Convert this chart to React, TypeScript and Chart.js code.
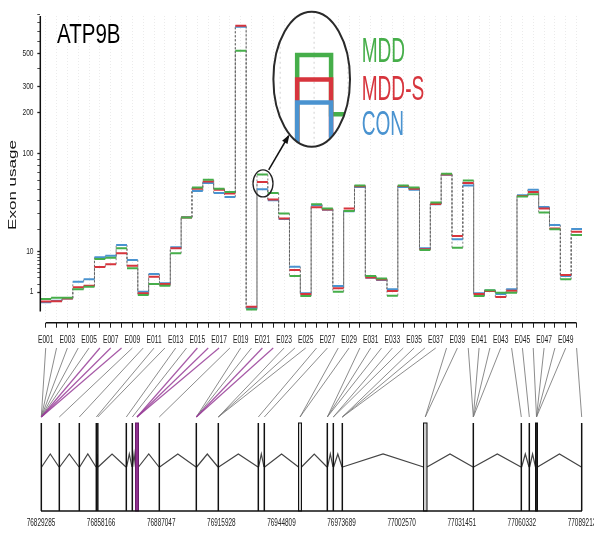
import React, { useEffect, useRef } from "react";
import { Chart, registerables } from "chart.js";

Chart.register(...registerables);

// ---------- data ----------
const exonLabels = [
  "E001", "E002", "E003", "E004", "E005", "E006", "E007", "E008", "E009", "E010",
  "E011", "E012", "E013", "E014", "E015", "E016", "E017", "E018", "E019", "E020",
  "E021", "E022", "E023", "E024", "E025", "E026", "E027", "E028", "E029", "E030",
  "E031", "E032", "E033", "E034", "E035", "E036", "E037", "E038", "E039", "E040",
  "E041", "E042", "E043", "E044", "E045", "E046", "E047", "E048", "E049", "E050",
];

const mddValues = [
  0.41, 0.5, 0.5, 1.3, 1.63, 7.6, 8.0, 11.2, 5.05, 0.71,
  2.0, 1.76, 9.4, 27, 52.3, 61.2, 51.2, 47.8, 523, 0.01,
  67.7, 46.8, 29.8, 3.37, 0.63, 36.8, 33.4, 1.03, 31.6, 54.7,
  3.37, 2.9, 0.66, 54.7, 52.3, 10.6, 38.2, 68.7, 11.45, 60.4,
  0.63, 1.2, 0.93, 0.93, 43.5, 45.6, 30.5, 19.9, 2.76, 17.0,
];
const mddsValues = [
  0.26, 0.27, 0.45, 1.55, 1.76, 5.4, 6.1, 9.4, 5.7, 0.87,
  3.24, 2.0, 11.2, 27, 51.2, 59.2, 50.2, 46.3, 761, 0.06,
  58.4, 40.8, 26.4, 4.65, 0.8, 34.4, 32.7, 1.42, 33.4, 53.7,
  3.1, 2.75, 1.1, 54.0, 51.2, 10.9, 37.0, 67.7, 16.5, 57.3,
  0.8, 1.1, 0.56, 1.14, 44.0, 47.8, 33.4, 20.4, 3.57, 18.6,
];
const conValues = [
  0.22, 0.3, 0.45, 2.36, 2.76, 8.1, 8.6, 12.5, 7.3, 1.03,
  3.77, 2.11, 11.6, 27.2, 48.8, 57.3, 46.8, 43.1, 750, 0.03,
  50.5, 40.2, 26.0, 5.44, 0.87, 36.0, 32.5, 1.72, 31.3, 52.9,
  3.05, 2.65, 1.3, 52.9, 50.2, 11.2, 36.8, 67.4, 15.0, 54.7,
  0.87, 1.15, 0.8, 1.3, 44.6, 50.2, 34.6, 22.3, 3.37, 20.05,
];

const seriesNames = ["MDD", "MDD-S", "CON"];
const seriesColors = ["#46ae4a", "#d7353d", "#4a93d0"];
const seriesValues = [mddValues, mddsValues, conValues];

const yTickMajor = [1, 10, 100, 200, 300, 500];
const yTickMinor = [2, 3, 4, 5, 6, 7, 8, 9, 20, 30, 40, 50, 60, 70, 80, 90, 400, 600, 700, 800, 900];

const genomicTicks = [
  76829285, 76858166, 76887047, 76915928, 76944809,
  76973689, 77002570, 77031451, 77060332, 77089213,
];

const geneExonStart = [
  76829285, 76837933, 76847542, 76855710, 76856431, 76870124, 76873007, 76874688,
  76885979, 76903756, 76914326, 76933545, 76936428, 76953003, 76966697, 76969579,
  76973903, 77013061, 77036844, 77059906, 77063749, 77066872, 77088913,
];
const geneExonEnd = [
  76829585, 76838233, 76847842, 76856010, 76856731, 76870424, 76873307, 76876130,
  76886279, 76904056, 76914626, 76933845, 76936728, 76954445, 76966997, 76969879,
  76974203, 77014743, 77037144, 77060206, 77064049, 77067833, 77089213,
];
const exonToGeneExon = [
  0, 0, 0, 0, 0, 0, 0, 0, 1, 2,
  3, 4, 5, 6, 7, 7, 7, 8, 9, 9,
  9, 9, 10, 10, 10, 11, 12, 13, 13, 14,
  14, 14, 15, 15, 16, 16, 16, 17, 17, 18,
  18, 18, 18, 19, 20, 21, 21, 21, 21, 22,
];
const significantExons = ["E006", "E007", "E008", "E015", "E016", "E017", "E021", "E022"];
const highlightedGeneExons = [7];
const shadedGeneExons = [13, 17];
const darkGeneExons = [21];

const geneName = "ATP9B";
const yTitle = "Exon usage";

// zoomed-in annotation anchor (exon position, usage value)
const zoomAnchorExon = 21.12;
const zoomAnchorValue = 58;

// ---------- helpers ----------
const T = (v: number) => Math.asinh(Math.sqrt(v / 50));
const FONT = '"Liberation Sans", Arial, Helvetica, sans-serif';

function stepData(vals: number[]) {
  const pts: { x: number; y: number | null }[] = [];
  vals.forEach((v, i) => {
    pts.push({ x: i + 0.5, y: T(v) }, { x: i + 1.5, y: T(v) }, { x: i + 1.5, y: null });
  });
  return pts;
}
function connectorData(vals: number[]) {
  const pts: { x: number; y: number | null }[] = [];
  for (let i = 0; i < vals.length - 1; i++) {
    pts.push({ x: i + 1.5, y: T(vals[i]) }, { x: i + 1.5, y: T(vals[i + 1]) }, { x: i + 1.5, y: null });
  }
  return pts;
}

function drawText(
  ctx: CanvasRenderingContext2D,
  text: string,
  x: number,
  y: number,
  o: { size: number; sx?: number; align?: CanvasTextAlign; baseline?: CanvasTextBaseline; color?: string; rotate?: number }
) {
  ctx.save();
  ctx.translate(x, y);
  if (o.rotate) ctx.rotate(o.rotate);
  ctx.scale(o.sx ?? 1, 1);
  ctx.font = `${o.size}px ${FONT}`;
  ctx.textAlign = o.align ?? "left";
  ctx.textBaseline = o.baseline ?? "alphabetic";
  ctx.fillStyle = o.color ?? "#000";
  ctx.fillText(text, 0, 0);
  ctx.restore();
}

const decorPlugin = {
  id: "decor",
  afterDraw(chart: any) {
    const ctx: CanvasRenderingContext2D = chart.ctx;
    const xs = chart.scales.x;
    const ys = chart.scales.y;
    const xg = chart.scales.xg;
    const ca = chart.chartArea;
    ctx.save();

    // axis lines
    ctx.strokeStyle = "#111";
    ctx.lineWidth = 1.5;
    ctx.beginPath();
    ctx.moveTo(ca.left, ca.top);
    ctx.lineTo(ca.left, ys.getPixelForValue(0));
    ctx.stroke();
    ctx.beginPath();
    ctx.moveTo(xs.getPixelForValue(1), ca.bottom);
    ctx.lineTo(xs.getPixelForValue(exonLabels.length), ca.bottom);
    ctx.stroke();

    // y labels
    yTickMajor.forEach((v) => {
      drawText(ctx, String(v), ca.left - 6.8, ys.getPixelForValue(T(v)), {
        size: 8.5, sx: 0.78, align: "right", baseline: "middle", color: "#222",
      });
    });
    // x labels
    exonLabels.forEach((lab, i) => {
      if (i % 2 !== 0) return;
      drawText(ctx, lab, xs.getPixelForValue(i + 1), ca.bottom + 20.6, {
        size: 11.5, sx: 0.58, align: "center", color: "#222",
      });
    });
    // y title
    drawText(ctx, yTitle, 4.9, 177, { size: 10, sx: 1.7, align: "center", baseline: "middle", rotate: -Math.PI / 2, color: "#111" });
    // gene title
    drawText(ctx, geneName, 49, 35.3, { size: 28, sx: 0.733, color: "#000" });
    // legend
    const legBase = [53.7, 92, 127];
    seriesNames.forEach((n, i) => {
      drawText(ctx, n, 353.7, legBase[i], { size: 35, sx: 0.545, color: seriesColors[i] });
    });

    // ---- zoom inset ----
    const ax = xs.getPixelForValue(zoomAnchorExon);
    const ay = ys.getPixelForValue(T(zoomAnchorValue));
    const bx = 303.7, by = 71.2, brx = 38.3, bry = 67.5;
    const mx = (X: number) => bx + 6.5 + (X - ax) * 3.13;
    const my = (Y: number) => by + 1.3 + (Y - ay) * 3.2;
    ctx.save();
    ctx.beginPath();
    ctx.ellipse(bx, by, brx, bry, 0, 0, Math.PI * 2);
    ctx.fillStyle = "#fff";
    ctx.fill();
    ctx.clip();
    ctx.strokeStyle = "rgba(0,0,0,0.12)";
    ctx.lineWidth = 1.5;
    ctx.setLineDash([2, 3]);
    for (let e = 18; e <= 24; e++) {
      const gx = mx(xs.getPixelForValue(e));
      ctx.beginPath();
      ctx.moveTo(gx, by - bry);
      ctx.lineTo(gx, by + bry);
      ctx.stroke();
    }
    ctx.setLineDash([]);
    ctx.filter = "blur(0.6px)";
    [0, 1, 2].forEach((s) => {
      const vals = seriesValues[s];
      ctx.beginPath();
      for (let i = 17; i <= 23; i++) {
        const yv = ys.getPixelForValue(T(vals[i]));
        const xl = xs.getPixelForValue(i + 0.5);
        const xr = xs.getPixelForValue(i + 1.5);
        if (i === 17) ctx.moveTo(mx(xl), my(yv));
        else ctx.lineTo(mx(xl), my(yv));
        ctx.lineTo(mx(xr), my(yv));
      }
      ctx.strokeStyle = seriesColors[s];
      ctx.lineWidth = 4.5;
      ctx.lineJoin = "miter";
      ctx.stroke();
    });
    ctx.filter = "none";
    ctx.restore();
    ctx.beginPath();
    ctx.ellipse(bx, by, brx, bry, 0, 0, Math.PI * 2);
    ctx.strokeStyle = "#2a2a2a";
    ctx.lineWidth = 2;
    ctx.stroke();
    // small ellipse
    ctx.beginPath();
    ctx.ellipse(ax - 0.7, ay + 1, 10, 13.5, 0, 0, Math.PI * 2);
    ctx.strokeStyle = "#222";
    ctx.lineWidth = 1.3;
    ctx.stroke();
    // arrow
    const sx0 = ax + 5, sy0 = ay - 12.5;
    const ex0 = bx - 23.2, ey0 = by + 56.8;
    ctx.beginPath();
    ctx.moveTo(sx0, sy0);
    ctx.lineTo(ex0, ey0);
    ctx.strokeStyle = "#111";
    ctx.lineWidth = 1.5;
    ctx.stroke();
    const ang = Math.atan2(ey0 - sy0, ex0 - sx0);
    ctx.beginPath();
    ctx.moveTo(ex0 + 1, ey0 - 1.5);
    ctx.lineTo(ex0 - 8 * Math.cos(ang - 0.4), ey0 - 8 * Math.sin(ang - 0.4));
    ctx.lineTo(ex0 - 8 * Math.cos(ang + 0.4), ey0 - 8 * Math.sin(ang + 0.4));
    ctx.closePath();
    ctx.fillStyle = "#111";
    ctx.fill();

    // ---- gene model ----
    const gTop = xg.top;
    const connTop = gTop - 4.7;
    const connBot = gTop + 64.3;
    const exTop = gTop + 70.3;
    const exBot = gTop + 158.3;
    const intronBase = gTop + 114.3;
    const intronPeak = gTop + 101.3;
    const labelBase = gTop + 173.5;
    const gp = (v: number) => xg.getPixelForValue(v);

    // connectors: grey first, purple on top
    [false, true].forEach((sigPass) => {
      exonLabels.forEach((lab, i) => {
        const sig = significantExons.includes(lab);
        if (sig !== sigPass) return;
        const g = exonToGeneExon[i];
        const x1 = xs.getPixelForValue(i + 1);
        const x2 = gp((geneExonStart[g] + geneExonEnd[g]) / 2);
        ctx.beginPath();
        ctx.moveTo(x1, connTop);
        ctx.lineTo(x2, connBot);
        ctx.strokeStyle = sig ? "rgba(150,60,150,0.85)" : "rgba(120,120,120,0.85)";
        ctx.lineWidth = sig ? 1.2 : 1;
        ctx.stroke();
      });
    });

    // introns
    ctx.strokeStyle = "#444";
    ctx.lineWidth = 1.2;
    for (let k = 0; k < geneExonStart.length - 1; k++) {
      const xa = gp(geneExonEnd[k]);
      const xb = gp(geneExonStart[k + 1]);
      ctx.beginPath();
      ctx.moveTo(xa, intronBase);
      ctx.lineTo((xa + xb) / 2, intronPeak);
      ctx.lineTo(xb, intronBase);
      ctx.stroke();
    }
    // exons
    geneExonStart.forEach((st, k) => {
      const xa = gp(st);
      const xb = gp(geneExonEnd[k]);
      if (xb - xa < 1.5) {
        ctx.beginPath();
        ctx.moveTo((xa + xb) / 2, exTop);
        ctx.lineTo((xa + xb) / 2, exBot);
        ctx.strokeStyle = "#111";
        ctx.lineWidth = 1.5;
        ctx.stroke();
      } else {
        let fill = "#fff";
        if (highlightedGeneExons.includes(k)) fill = "#8e2f8e";
        else if (shadedGeneExons.includes(k)) fill = "#cfcfcf";
        else if (darkGeneExons.includes(k)) fill = "#222";
        ctx.fillStyle = fill;
        ctx.fillRect(xa, exTop, xb - xa, exBot - exTop);
        ctx.strokeStyle = highlightedGeneExons.includes(k) ? "#6a1d6a" : "#111";
        ctx.lineWidth = 1;
        ctx.strokeRect(xa, exTop, xb - xa, exBot - exTop);
      }
    });
    // base line
    ctx.beginPath();
    ctx.moveTo(gp(geneExonStart[0]), exBot);
    ctx.lineTo(gp(geneExonEnd[geneExonEnd.length - 1]), exBot);
    ctx.strokeStyle = "#111";
    ctx.lineWidth = 1.5;
    ctx.stroke();
    // genomic labels
    genomicTicks.forEach((t) => {
      drawText(ctx, String(t), gp(t), labelBase, { size: 10.7, sx: 0.6, align: "center", color: "#222" });
    });

    ctx.restore();
  },
};

export default function App() {
  const ref = useRef<HTMLCanvasElement | null>(null);
  useEffect(() => {
    if (!ref.current) return;
    const datasets: any[] = [];
    seriesValues.forEach((vals, s) => {
      datasets.push({
        label: seriesNames[s],
        data: stepData(vals),
        borderColor: seriesColors[s],
        borderWidth: 2,
        pointRadius: 0,
        fill: false,
        spanGaps: false,
        tension: 0,
        xAxisID: "x",
        yAxisID: "y",
      });
    });
    seriesValues.forEach((vals, s) => {
      datasets.push({
        label: seriesNames[s] + " connector",
        data: connectorData(vals),
        borderColor: "rgba(85,85,85,0.75)",
        borderWidth: 1,
        borderDash: [2, 2],
        pointRadius: 0,
        fill: false,
        spanGaps: false,
        tension: 0,
        xAxisID: "x",
        yAxisID: "y",
      });
    });
    const yTicks = [
      ...yTickMajor.map((v) => ({ value: T(v), major: true })),
      ...yTickMinor.map((v) => ({ value: T(v), major: false })),
    ].sort((a, b) => a.value - b.value);

    const chart = new Chart(ref.current, {
      type: "line",
      data: { datasets },
      options: {
        animation: false,
        responsive: false,
        devicePixelRatio: 1,
        layout: { padding: { top: 8, right: 20, bottom: 0, left: 0 } },
        plugins: { legend: { display: false }, tooltip: { enabled: false } },
        scales: {
          x: {
            type: "linear",
            position: "bottom",
            weight: 0,
            min: 0.5,
            max: exonLabels.length + 0.5,
            bounds: "data",
            afterBuildTicks: (s: any) => {
              s.ticks = exonLabels.map((_, i) => ({ value: i + 1 }));
            },
            ticks: { display: false },
            grid: {
              color: "rgba(0,0,0,0.08)",
              lineWidth: 1,
              drawTicks: true,
              tickLength: 5,
              tickColor: "#222",
              tickWidth: 1,
            },
            border: { display: false, dash: [1, 2] },
            afterFit: (s: any) => {
              s.height = 30;
            },
          },
          xg: {
            type: "linear",
            position: "bottom",
            weight: 1,
            min: 76828949,
            max: 77089213,
            bounds: "data",
            afterBuildTicks: (s: any) => {
              s.ticks = genomicTicks.map((v) => ({ value: v }));
            },
            ticks: { display: false },
            grid: { display: false },
            border: { display: false },
            afterFit: (s: any) => {
              s.height = 184.3;
            },
          },
          y: {
            type: "linear",
            position: "left",
            min: -0.0815,
            max: 2.141,
            bounds: "data",
            afterBuildTicks: (s: any) => {
              s.ticks = yTicks.map((t) => ({ value: t.value, major: t.major }));
            },
            ticks: { display: false },
            grid: {
              drawOnChartArea: false,
              drawTicks: true,
              tickLength: 3,
              tickColor: "#222",
              tickWidth: (c: any) => (c.tick && c.tick.major ? 1.3 : 0.8),
            },
            border: { display: false },
            afterFit: (s: any) => {
              s.width = 32.3;
            },
          },
        },
      } as any,
      plugins: [decorPlugin],
    });
    return () => chart.destroy();
  }, []);
  return (
    <div style={{ width: 594, height: 529 }}>
      <canvas ref={ref} width={594} height={529} style={{ display: "block" }} />
    </div>
  );
}
